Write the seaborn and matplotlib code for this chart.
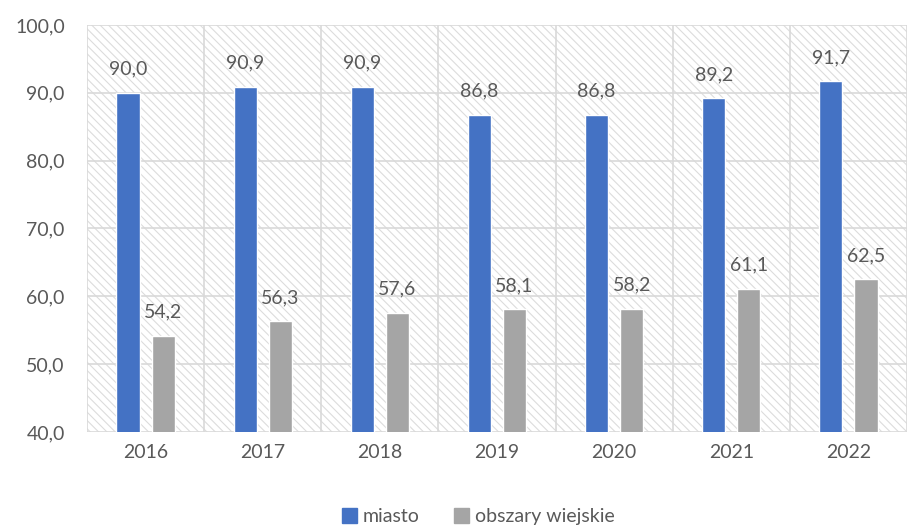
import pandas as pd
import matplotlib.pyplot as plt
import seaborn as sns
from matplotlib.patches import Rectangle

years = ["2016", "2017", "2018", "2019", "2020", "2021", "2022"]
miasto = [90.0, 90.9, 90.9, 86.8, 86.8, 89.2, 91.7]
wies = [54.2, 56.3, 57.6, 58.1, 58.2, 61.1, 62.5]
series_names = ["miasto", "obszary wiejskie"]
colors = ["#4472c4", "#a5a5a5"]

df = pd.DataFrame({
    "rok": years * 2,
    "wartosc": miasto + wies,
    "seria": [series_names[0]] * len(years) + [series_names[1]] * len(years),
})

sns.set_style("white")
plt.rcParams["font.family"] = ["Lato", "DejaVu Sans"]
plt.rcParams["hatch.linewidth"] = 0.8
txt = "#595959"
fs = 14

fig = plt.figure(figsize=(9.11, 5.27), dpi=100)
ax = fig.add_axes([0.0955, 0.1803, 0.9, 0.7723])

sns.barplot(data=df, x="rok", y="wartosc", hue="seria", palette=colors,
            width=0.6, gap=0.34, ax=ax, legend=False, zorder=3, saturation=1)

# hatched background
ax.add_patch(Rectangle((0, 0), 1, 1, transform=ax.transAxes, fill=False,
                       hatch="\\\\\\\\", edgecolor="#dcdcdc", linewidth=0, zorder=0))

ax.set_ylim(40, 100)
ax.set_xlim(-0.5, len(years) - 0.5)
ax.set_yticks(range(40, 101, 10))
ax.set_yticklabels([f"{v},0" for v in range(40, 101, 10)])
ax.set_xlabel("")
ax.set_ylabel("")
ax.tick_params(axis="both", length=0, labelsize=fs, colors=txt)
ax.tick_params(axis="x", pad=9)
ax.tick_params(axis="y", pad=16)

for v in range(40, 101, 10):
    ax.axhline(v, color="#d9d9d9", lw=1.2, zorder=1)
for i in range(len(years) + 1):
    ax.axvline(i - 0.5, color="#d9d9d9", lw=1.2, zorder=1)
for s in ax.spines.values():
    s.set_visible(False)

for cont in ax.containers:
    ax.bar_label(cont, labels=[f"{v:.1f}".replace(".", ",") for v in cont.datavalues],
                 padding=11, fontsize=fs, color=txt)

handles = [Rectangle((0, 0), 1, 1, color=c) for c in colors]
fig.legend(handles, series_names, loc="lower center", bbox_to_anchor=(0.525, -0.03),
           ncol=2, frameon=False, fontsize=fs, labelcolor=txt,
           handlelength=0.75, handleheight=0.75, handletextpad=0.3, columnspacing=1.8)

fig.savefig("out.png", dpi=100)
